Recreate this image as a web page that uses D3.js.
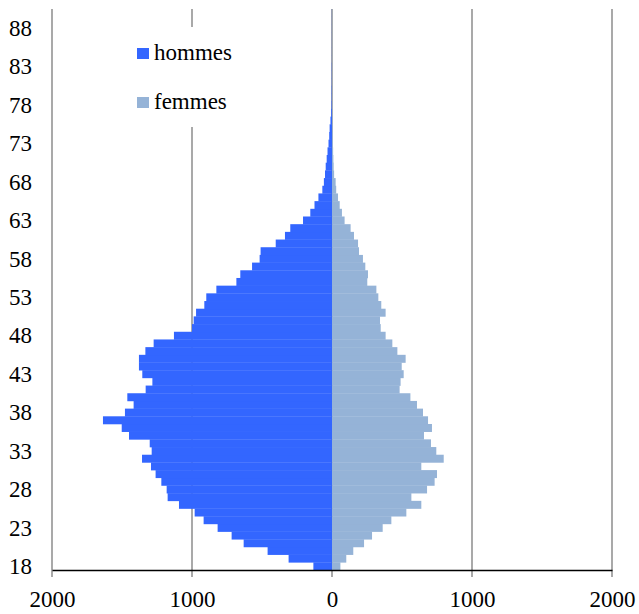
<!DOCTYPE html>
<html>
<head>
<meta charset="utf-8">
<script src="https://cdn.jsdelivr.net/npm/d3@7"></script>
<style>
  html, body { margin: 0; padding: 0; background: #fff; }
  svg { display: block; }
  text { font-family: "Liberation Serif", "Times New Roman", serif; fill: #000; }
</style>
</head>
<body>
<svg id="chart" width="639" height="614"></svg>
<script>
// Ages 18..90
const ages = d3.range(18, 91);
const hommes = [
  133, 310, 460, 631, 717, 817, 917, 981, 1093, 1174,
  1181, 1219, 1260, 1293, 1357, 1288, 1302, 1450, 1502, 1636,
  1479, 1417, 1462, 1331, 1283, 1355, 1379, 1379, 1333, 1274,
  1129, 1000, 988, 971, 912, 898, 826, 683, 655, 571,
  517, 510, 402, 336, 298, 207, 155, 125, 97, 69,
  58, 50, 45, 38, 32, 25, 20, 17, 11, 6,
  4, 3, 3, 2, 2, 2, 1, 1, 1, 1,
  1, 1, 1
];
const femmes = [
  60, 102, 152, 229, 286, 362, 424, 531, 638, 567,
  679, 733, 750, 638, 798, 745, 707, 657, 714, 686,
  650, 607, 560, 483, 490, 512, 498, 526, 467, 431,
  383, 348, 343, 383, 352, 331, 317, 252, 257, 238,
  221, 193, 186, 157, 133, 90, 71, 55, 43, 30,
  26, 15, 12, 10, 8, 6, 5, 4, 3, 2,
  2, 1, 1, 1, 1, 1, 1, 1, 1, 1,
  1, 1, 1
];
const xTicks = [-2000, -1000, 0, 1000, 2000];
const yTickLabels = [18, 23, 28, 33, 38, 43, 48, 53, 58, 63, 68, 73, 78, 83, 88];
const seriesNames = ["hommes", "femmes"];
const colors = ["#3366FF", "#95B3D7"];

const svg = d3.select("#chart");
const mLeft = 52, mRight = 612, mTop = 9, mBottom = 570;

const x = d3.scaleLinear().domain([-2000, 2000]).range([mLeft, mRight]);
const y = d3.scaleBand().domain(ages).range([mBottom, mTop]).paddingInner(0).paddingOuter(0);

// vertical gridlines
svg.append("g").selectAll("line").data(xTicks).join("line")
  .attr("x1", d => x(d)).attr("x2", d => x(d))
  .attr("y1", mTop).attr("y2", mBottom + 7)
  .attr("stroke", "#858585").attr("stroke-width", 1.4);

// bars
const data = ages.map((a, i) => ({ age: a, h: hommes[i], f: femmes[i] }));
svg.append("g").selectAll("rect").data(data).join("rect")
  .attr("x", d => x(-d.h)).attr("width", d => x(0) - x(-d.h))
  .attr("y", d => y(d.age)).attr("height", y.bandwidth() + 0.3)
  .attr("fill", colors[0]);
svg.append("g").selectAll("rect").data(data).join("rect")
  .attr("x", x(0)).attr("width", d => x(d.f) - x(0))
  .attr("y", d => y(d.age)).attr("height", y.bandwidth() + 0.3)
  .attr("fill", colors[1]);

// bottom axis
const xAxis = d3.axisBottom(x).tickValues(xTicks).tickSize(0).tickPadding(0)
  .tickFormat(d => String(Math.abs(d)));
const gx = svg.append("g").attr("transform", `translate(0,${mBottom})`).call(xAxis);
gx.select(".domain").attr("stroke", "#000").attr("stroke-width", 1.3);
gx.selectAll("text").attr("dy", null).attr("y", 37)
  .style("font-family", '"Liberation Serif", serif').style("font-size", "23px").attr("fill", "#000");

// left axis labels
const yAxis = d3.axisLeft(y).tickValues(yTickLabels).tickSize(0).tickPadding(0);
const gy = svg.append("g").attr("transform", `translate(32,0)`).call(yAxis);
gy.select(".domain").remove();
gy.selectAll("text").attr("x", 0).attr("dy", "0.34em")
  .style("font-family", '"Liberation Serif", serif').style("font-size", "23px").attr("fill", "#000");

// legend
const lg = svg.append("g");
lg.append("rect").attr("x", 128).attr("y", 27).attr("width", 118).attr("height", 100).attr("fill", "#fff");
const items = lg.selectAll("g.item").data(seriesNames).join("g").attr("class", "item")
  .attr("transform", (d, i) => `translate(137,${48 + i * 49})`);
items.append("rect").attr("width", 12).attr("height", 11).attr("fill", (d, i) => colors[i]);
items.append("text").attr("x", 17).attr("y", 12).text(d => d)
  .style("font-size", "23px");
</script>
</body>
</html>
